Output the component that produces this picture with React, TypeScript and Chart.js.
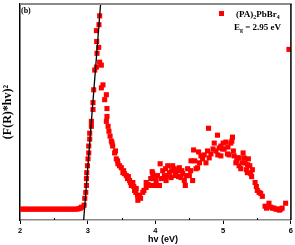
import React, { useEffect, useRef } from "react";
import { Chart, registerables } from "chart.js";
Chart.register(...registerables);

// photon energy (eV)
const hv = [
  2.0, 2.04, 2.08, 2.12, 2.16, 2.2, 2.24, 2.28, 2.32, 2.36, 2.4, 2.44, 2.48, 2.52, 2.56, 2.6,
  2.64, 2.68, 2.72, 2.76, 2.8, 2.84, 2.87, 2.89, 2.907, 2.946, 2.956, 2.971, 2.981, 2.981,
  2.985, 2.996, 3.004, 3.015, 3.015, 3.029, 3.029, 3.054, 3.054, 3.078, 3.078, 3.088, 3.103,
  3.128, 3.137, 3.132, 3.128, 3.166, 3.176, 3.162, 3.176, 3.201, 3.225, 3.201, 3.275, 3.25,
  3.284, 3.284, 3.275, 3.313, 3.349, 3.368, 3.397, 3.422, 3.446, 3.496, 3.519, 3.544, 3.569,
  3.588, 3.618, 3.643, 3.666, 3.691, 3.716, 3.735, 3.765, 3.74, 3.813, 3.863, 3.863, 3.912,
  3.96, 3.951, 3.96, 3.985, 4.01, 4.059, 4.069, 4.107, 4.132, 4.157, 4.181, 4.206, 4.231,
  4.254, 4.279, 4.304, 4.328, 4.353, 4.378, 4.401, 4.426, 4.441, 4.475, 4.5, 4.525, 4.549,
  4.563, 4.599, 4.622, 4.637, 4.672, 4.696, 4.746, 4.769, 4.784, 4.794, 4.819, 4.868, 4.893,
  4.916, 4.941, 4.966, 4.966, 4.99, 5.015, 5.04, 5.063, 5.088, 5.113, 5.128, 5.137, 5.162,
  5.187, 5.21, 5.235, 5.235, 5.26, 5.294, 5.309, 5.324, 5.343, 5.357, 5.372, 5.393, 5.407,
  5.431, 5.471, 5.504, 5.554, 5.578, 5.618, 5.676, 5.701, 5.75, 5.799, 5.849, 5.922, 5.971,
  3.3, 3.33, 3.36, 3.41, 3.44, 3.47, 3.53, 3.6, 3.63, 3.68, 3.71, 3.78, 3.83, 3.89, 3.93,
  4.03, 4.09, 4.15, 4.19, 4.24, 4.29, 4.34, 4.39, 4.46, 4.52, 4.58, 4.65, 4.72, 4.85, 4.92,
  5.0, 5.07, 5.15, 5.2, 5.28, 5.36, 5.42, 5.49, 5.53, 5.64, 5.73, 5.78, 5.83, 5.87,
];
// (F(R)*hv)^2, arbitrary units
const fr = [
  11, 11, 11, 11, 11, 11, 11, 11, 11, 11, 11, 11, 11, 11, 11, 11,
  11, 11, 11, 11, 11, 11, 11.5, 12, 13, 15, 22, 28, 35, 42,
  48, 55, 62, 68, 75, 82, 88, 95, 100, 112, 119, 132, 152,
  155, 169, 181, 192, 198, 207, 175, 160, 157, 137, 134, 127, 122,
  113, 105, 100, 90, 80, 75, 68, 62, 57, 53, 48, 47, 45,
  42, 40, 35, 38, 30, 32, 25, 25, 20, 28, 33, 38, 35,
  47, 49, 42, 35, 40, 35, 57, 50, 45, 40, 55, 48, 43,
  55, 52, 47, 50, 53, 43, 47, 40, 35, 52, 45, 60, 40,
  71, 52, 53, 69, 65, 62, 58, 70, 93, 63, 67, 78, 70,
  86, 73, 65, 75, 72, 72, 79, 67, 66, 78, 80, 84, 65,
  58, 63, 63, 55, 52, 68, 63, 58, 51, 48, 62, 55, 47,
  51, 38, 30, 27, 24, 14, 17, 13, 12, 11, 11, 17, 173,
  95, 85, 78, 70, 60, 55, 50, 44, 38, 34, 28, 22, 30, 36, 42,
  45, 42, 52, 45, 50, 45, 44, 50, 45, 50, 60, 58, 66, 72, 66,
  78, 74, 70, 60, 58, 56, 44, 34, 28, 12, 12, 11, 10, 12,
];
// linear fit of the absorption edge
const fitHv = [2.94, 3.19];
const fitFr = [0, 219];
const minorTicks = [2.5, 3.5, 4.5, 5.5];

const xTitle = "hv (eV)";
const yTitle = "(F(R)*hv)²";
const panelLabel = "(b)";
const gapLabel = ["E", "g", " = 2.95 eV"];
const seriesLabel = ["(PA)", "2", "PbBr", "4"];

const SERIF = "'Liberation Serif', 'Times New Roman', serif";
const SANS = "'Liberation Sans', Arial, sans-serif";

function drawSub(ctx: CanvasRenderingContext2D, parts: string[], x: number, y: number, size: number) {
  let cx = x;
  parts.forEach((p, i) => {
    const sub = i % 2 === 1;
    ctx.font = `bold ${sub ? size * 0.65 : size}px ${SERIF}`;
    ctx.fillText(p, cx, sub ? y + 2 : y);
    cx += ctx.measureText(p).width;
  });
}

export default function App() {
  const ref = useRef<HTMLCanvasElement>(null);
  useEffect(() => {
    document.body.style.margin = "0";
    const canvas = ref.current!;
    const deco = {
      id: "deco",
      afterDraw(chart: any) {
        const { ctx, chartArea: a, scales } = chart;
        ctx.save();
        ctx.strokeStyle = "#8a8a8a";
        ctx.lineWidth = 2;
        ctx.beginPath();
        ctx.moveTo(a.left, a.top);
        ctx.lineTo(a.right + 1, a.top);
        ctx.stroke();
        ctx.strokeStyle = "#000";
        ctx.lineWidth = 1.5;
        ctx.beginPath();
        ctx.moveTo(a.right, a.top);
        ctx.lineTo(a.right, a.bottom);
        ctx.stroke();
        ctx.lineWidth = 1;
        for (const m of minorTicks) {
          const px = Math.round(scales.x.getPixelForValue(m)) + 0.5;
          ctx.beginPath();
          ctx.moveTo(px, a.bottom);
          ctx.lineTo(px, a.bottom - 2);
          ctx.stroke();
        }
        ctx.fillStyle = "#000";
        ctx.textBaseline = "alphabetic";
        ctx.textAlign = "left";
        ctx.font = `bold 8px ${SERIF}`;
        ctx.fillText(panelLabel, a.left + 1, a.top + 9);
        // legend
        ctx.fillStyle = "#ff0000";
        ctx.fillRect(a.left + 199, a.top + 7, 5, 5);
        ctx.fillStyle = "#000";
        drawSub(ctx, seriesLabel, a.left + 216, a.top + 13, 9);
        drawSub(ctx, gapLabel, a.left + 214, a.top + 26, 9);
        // x title
        ctx.font = `bold 9px ${SANS}`;
        ctx.textAlign = "center";
        ctx.textBaseline = "middle";
        ctx.fillText(xTitle, 163, 239.5);
        ctx.restore();
      },
    };
    const chart = new Chart(canvas, {
      type: "scatter",
      data: {
        datasets: [
          {
            type: "line",
            data: fitHv.map((x, i) => ({ x, y: fitFr[i] })),
            borderColor: "#000",
            borderWidth: 1.3,
            pointRadius: 0,
            showLine: true,
          } as any,
          {
            label: "(PA)2PbBr4",
            data: hv.map((x, i) => ({ x, y: fr[i] })),
            pointStyle: "rect",
            pointRadius: 3.6,
            backgroundColor: "#ff0000",
            borderWidth: 0,
          },
        ],
      },
      options: {
        responsive: false,
        animation: false,
        layout: { padding: { top: 1, right: 3, left: 0, bottom: 0 } },
        plugins: { legend: { display: false }, tooltip: { enabled: false } },
        scales: {
          x: {
            type: "linear",
            min: 2,
            max: 6,
            afterFit: (s: any) => {
              s.height = 25;
            },
            ticks: {
              stepSize: 1,
              color: "#000",
              padding: 2,
              font: { family: SANS, size: 7.5, weight: "bold" },
            },
            grid: { drawOnChartArea: false, drawTicks: true, tickLength: 4, tickColor: "#000", color: "#000" },
            border: { display: true, color: "#8a8a8a", width: 1.5 },
          },
          y: {
            type: "linear",
            min: 0,
            max: 219,
            afterFit: (s: any) => {
              s.width = 20;
            },
            ticks: { display: false },
            grid: { drawOnChartArea: false, drawTicks: false },
            border: { display: true, color: "#000", width: 1.5 },
            title: {
              display: true,
              text: yTitle,
              color: "#000",
              padding: { top: 1, bottom: 0 },
              font: { family: SERIF, size: 12, weight: "bold" },
            },
          },
        },
      },
      plugins: [deco],
    });
    return () => chart.destroy();
  }, []);
  return (
    <div style={{ width: 295, height: 245 }}>
      <canvas ref={ref} width={295} height={245} />
    </div>
  );
}
